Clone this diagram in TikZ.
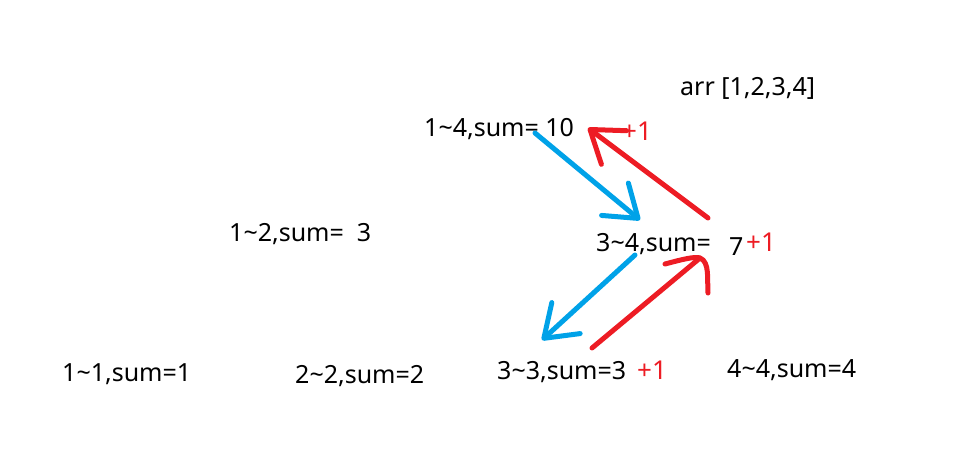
\documentclass[tikz,border=0pt]{standalone}
\usepackage{fontspec}
\setmainfont{Noto Sans}
\usetikzlibrary{arrows.meta}
\definecolor{pblue}{HTML}{00A2E8}
\definecolor{pred}{HTML}{ED1C24}
\begin{document}
\begin{tikzpicture}[x=1pt,y=-1pt,
  lbl/.style={anchor=base west,inner sep=0pt,font=\fontsize{25}{28}\selectfont},
  plus/.style={lbl,text=pred,font=\fontsize{26}{29}\selectfont},
  pen/.style={line width=5pt,line cap=round,line join=round},
  bluearr/.style={pen,draw=pblue,-{Straight Barb[length=30pt,width=42pt,line width=5pt,round]}},
  redarr/.style={pen,draw=pred,-{Straight Barb[length=30pt,width=42pt,line width=5pt,round]}}]
\useasboundingbox (0,0) rectangle (972,469);
\node[lbl] (arr) at (680,95) {arr [1,2,3,4]};
\node[lbl] (n14) at (424,136) {1\textasciitilde4,sum= 10};
\node[plus] (p14) at (622,140) {+1};
\node[lbl] (n12) at (229,241) {1\textasciitilde2,sum=\ \ 3};
\node[lbl] (n34) at (596,251) {3\textasciitilde4,sum=};
\node[lbl] (v34) at (729,255) {7};
\node[plus] (p34) at (746,251) {+1};
\node[lbl] (n11) at (62,381) {1\textasciitilde1,sum=1};
\node[lbl] (n22) at (295,383) {2\textasciitilde2,sum=2};
\node[lbl] (n33) at (497,379) {3\textasciitilde3,sum=3};
\node[plus] (p33) at (637,379) {+1};
\node[lbl] (n44) at (727,377) {4\textasciitilde4,sum=4};
\coordinate (b1s) at (535,133);
\coordinate (b1e) at (640,220);
\coordinate (r1s) at (708,218);
\coordinate (r1e) at (588,128);
\coordinate (b2s) at (635,255);
\coordinate (b2e) at (542,340);
\coordinate (r2s) at (592,348);
\coordinate (r2e) at (700,258);
\coordinate (r2l) at (665,264);
\coordinate (r2r) at (708,293);
\draw[bluearr] (b1s) -- (b1e);
\draw[redarr] (r1s) -- (r1e);
\draw[bluearr] (b2s) -- (b2e);
\draw[pen,draw=pred] (r2s) -- (r2e);
\draw[pen,draw=pred] (r2l) .. controls (680,260) and (695,256) .. (r2e) .. controls (710,262) and (707,280) .. (r2r);
\end{tikzpicture}
\end{document}
